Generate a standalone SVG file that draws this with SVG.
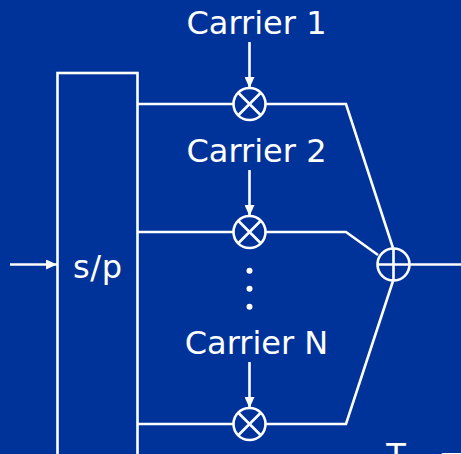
<svg xmlns="http://www.w3.org/2000/svg" width="461" height="454" viewBox="0 0 461 454">
<style>
.l{fill:none;stroke:#fff;stroke-width:2.6}
.t{font-family:"DejaVu Sans",Verdana,sans-serif;font-size:32px;fill:#fff;text-anchor:middle}
.n{fill:#003399;stroke:#fff;stroke-width:2.6}
</style>
<defs><marker id="a" markerWidth="11" markerHeight="10" refX="11" refY="5" orient="auto" markerUnits="userSpaceOnUse"><path d="M0 0L11 5L0 10Z" fill="#fff"/></marker></defs>
<rect width="461" height="454" fill="#003399"/>
<g id="connectors">
<path class="l" d="M137 104H346L393 248"/>
<path class="l" d="M137 232H346L378 255"/>
<path class="l" d="M137 424H346L393 281"/>
<path class="l" d="M410 264.500H461"/>
<path class="l" d="M10 264.500H57" marker-end="url(#a)"/>
<path class="l" d="M249.500 42V88" marker-end="url(#a)"/>
<path class="l" d="M249.500 170V216" marker-end="url(#a)"/>
<path class="l" d="M249.500 362V408" marker-end="url(#a)"/>
</g>
<g id="sp"><rect class="n" x="57.500" y="73" width="80" height="390"/><text class="t" x="97.500" y="278" textLength="49">s/p</text></g>
<g id="m1"><circle class="n" cx="249.500" cy="104" r="16"/><path class="l" d="M238.500 93L260.500 115M260.500 93L238.500 115"/></g>
<g id="m2"><circle class="n" cx="249.500" cy="232" r="16"/><path class="l" d="M238.500 221L260.500 243M260.500 221L238.500 243"/></g>
<g id="m3"><circle class="n" cx="249.500" cy="424" r="16"/><path class="l" d="M238.500 413L260.500 435M260.500 413L238.500 435"/></g>
<g id="sum"><circle class="n" cx="393.500" cy="264.500" r="16"/><path class="l" d="M377.500 264.500H409.500M393.500 248.500V280.500"/></g>
<g id="c1"><text class="t" x="256.500" y="34">Carrier 1</text></g>
<g id="c2"><text class="t" x="256.500" y="162">Carrier 2</text></g>
<g id="cn"><text class="t" x="256.500" y="354">Carrier N</text></g>
<g id="dots" fill="#fff"><circle cx="249.500" cy="270.700" r="3"/><circle cx="249.500" cy="288.700" r="3"/><circle cx="249.500" cy="306.700" r="3"/></g>
<g id="bottom"><text class="t" x="396" y="466">T</text><text class="t" x="452" y="468">=</text></g>
</svg>
